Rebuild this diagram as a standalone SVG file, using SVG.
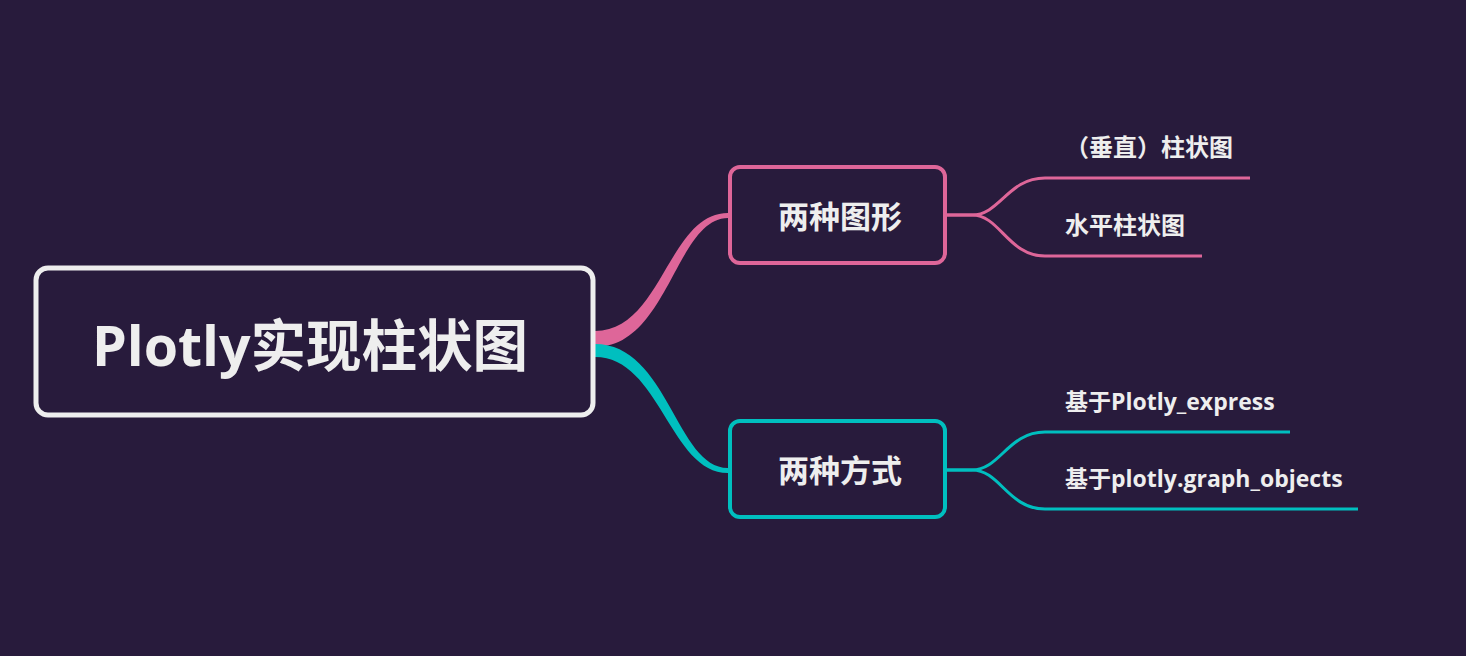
<svg xmlns="http://www.w3.org/2000/svg" width="1466" height="656" viewBox="0 0 1466 656">
<style>
.t{font-family:"Open Sans","Noto Sans CJK SC",sans-serif;font-weight:bold;fill:#eeeeee}
.pk{fill:none;stroke:#de6699;stroke-width:3}
.tl{fill:none;stroke:#00bfbf;stroke-width:3}
</style>
<rect width="1466" height="656" fill="#281b3c"/>
<g id="connectors">
<path d="M595,331 C662,331 668,213 728,213 L728,218 C676,218 668,347 595,347 Z" fill="#de6699"/>
<path d="M595,344 C668,344 676,468 728,468 L728,473 C670,473 660,357 595,357 Z" fill="#00bfbf"/>
<path class="pk" d="M947,215 L972,215 C1000,215 1008,178 1045,178 L1250,178"/>
<path class="pk" d="M947,215 L972,215 C1000,215 1008,256 1045,256 L1202,256"/>
<path class="tl" d="M947,470 L972,470 C1000,470 1008,432 1045,432 L1290,432"/>
<path class="tl" d="M947,470 L972,470 C1000,470 1008,509 1045,509 L1358,509"/>
</g>
<g id="root">
<rect x="36" y="268" width="557" height="147" rx="12" fill="#281b3c" stroke="#eeeeee" stroke-width="5"/>
<text class="t" x="310" y="366" font-size="55.5" text-anchor="middle">Plotly实现柱状图</text>
</g>
<g id="n1">
<rect x="730" y="167" width="215" height="96" rx="10" fill="#281b3c" stroke="#de6699" stroke-width="4"/>
<text class="t" x="840" y="228" font-size="31" text-anchor="middle">两种图形</text>
</g>
<g id="n2">
<rect x="730" y="421" width="215" height="96" rx="10" fill="#281b3c" stroke="#00bfbf" stroke-width="4"/>
<text class="t" x="840" y="482" font-size="31" text-anchor="middle">两种方式</text>
</g>
<g id="n1a"><text class="t" x="1065" y="156" font-size="24">（垂直）柱状图</text></g>
<g id="n1b"><text class="t" x="1065" y="234" font-size="24">水平柱状图</text></g>
<g id="n2a"><text class="t" x="1065" y="410" font-size="23">基于Plotly_express</text></g>
<g id="n2b"><text class="t" x="1065" y="487" font-size="23">基于plotly.graph_objects</text></g>
</svg>
